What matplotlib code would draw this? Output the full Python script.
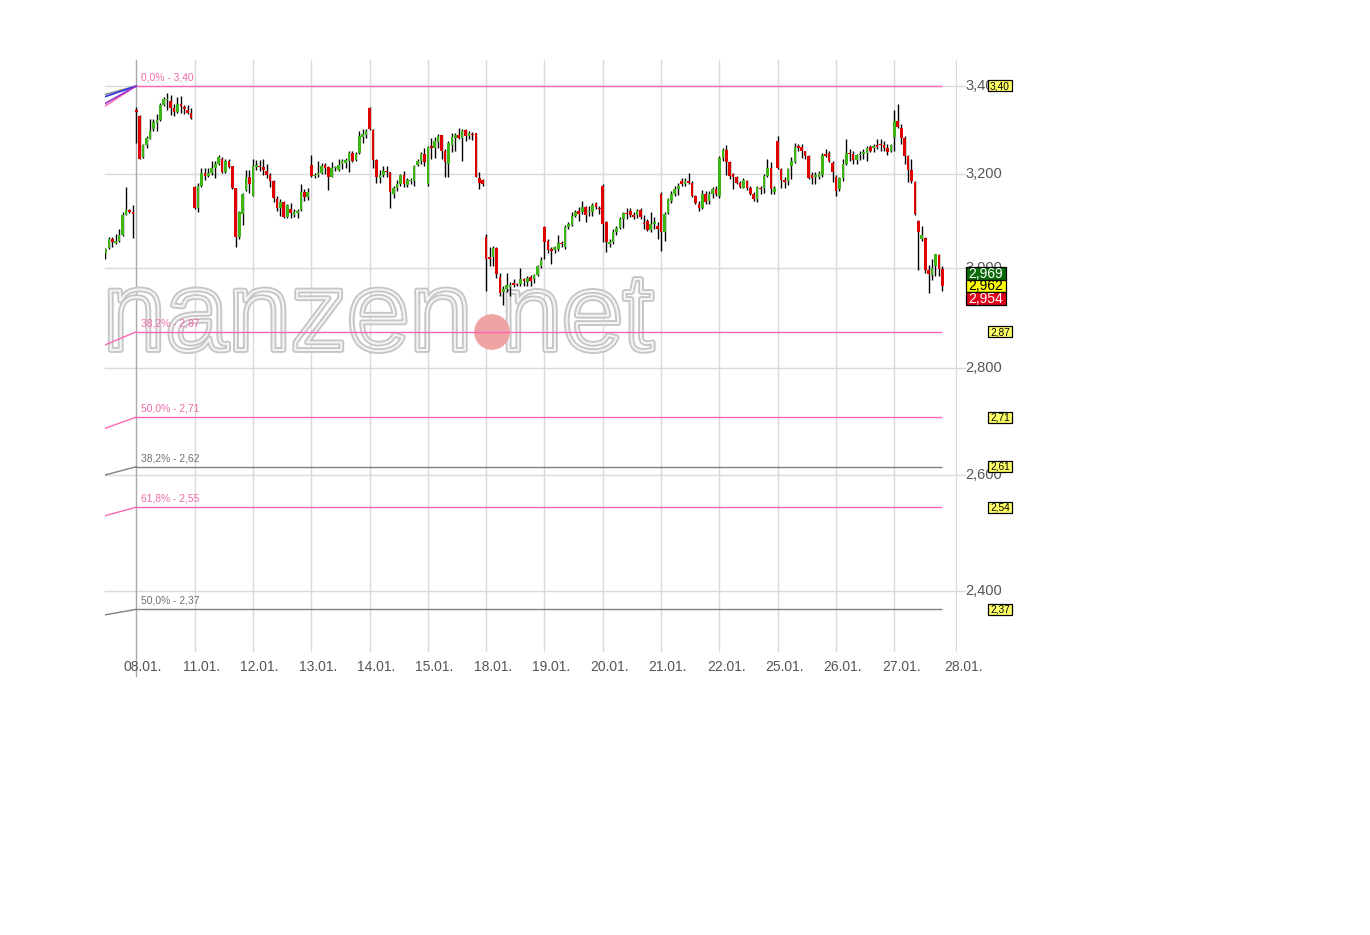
import matplotlib
matplotlib.use("Agg")
import matplotlib.pyplot as plt
from matplotlib.transforms import blended_transform_factory, IdentityTransform
from matplotlib.patches import Rectangle
import matplotlib.patheffects as pe

plt.rcParams['font.family'] = ['Liberation Sans', 'DejaVu Sans']

# ---------------- data ----------------
candle_days = ["07.01.", "08.01.", "11.01.", "12.01.", "13.01.", "14.01.", "15.01.",
               "18.01.", "19.01.", "20.01.", "21.01.", "22.01.", "25.01.", "26.01.", "27.01."]
x_labels = ["08.01.", "11.01.", "12.01.", "13.01.", "14.01.", "15.01.", "18.01.", "19.01.",
            "20.01.", "21.01.", "22.01.", "25.01.", "26.01.", "27.01.", "28.01."]
first_slot = [8, 0, 0, 0, 0, 0, 0, 0, 0, 0, 0, 0, 0, 0, 0]
SLOTS = 17  # half-hour candles per trading day

OPEN = [
    [3.031, 3.040, 3.060, 3.051, 3.055, 3.067, 3.111, 3.121, 3.118],
    [3.345, 3.330, 3.237, 3.264, 3.279, 3.300, 3.314, 3.321, 3.355, 3.368, 3.366, 3.348, 3.339, 3.357, 3.351, 3.345, 3.338],
    [3.172, 3.126, 3.173, 3.202, 3.196, 3.202, 3.213, 3.223, 3.233, 3.205, 3.228, 3.217, 3.170, 3.064, 3.113, 3.164, 3.193],
    [3.152, 3.216, 3.218, 3.215, 3.207, 3.198, 3.184, 3.145, 3.126, 3.138, 3.107, 3.123, 3.111, 3.114, 3.122, 3.161, 3.150],
    [3.220, 3.196, 3.198, 3.203, 3.220, 3.215, 3.194, 3.212, 3.209, 3.223, 3.224, 3.228, 3.247, 3.230, 3.247, 3.283, 3.287],
    [3.349, 3.298, 3.230, 3.192, 3.198, 3.207, 3.204, 3.157, 3.168, 3.177, 3.198, 3.175, 3.185, 3.185, 3.220, 3.228, 3.245],
    [3.177, 3.262, 3.257, 3.271, 3.286, 3.252, 3.222, 3.264, 3.281, 3.286, 3.281, 3.298, 3.285, 3.289, 3.291, 3.192, 3.187],
    [3.064, 3.022, 3.021, 3.040, 2.981, 2.949, 2.956, 2.959, 2.966, 2.966, 2.966, 2.976, 2.971, 2.981, 2.976, 2.984, 3.003],
    [3.086, 3.056, 3.037, 3.036, 3.038, 3.051, 3.042, 3.086, 3.089, 3.109, 3.120, 3.118, 3.127, 3.116, 3.118, 3.136, 3.125],
    [3.174, 3.096, 3.050, 3.053, 3.075, 3.082, 3.101, 3.115, 3.120, 3.111, 3.111, 3.122, 3.093, 3.098, 3.079, 3.091, 3.088],
    [3.155, 3.075, 3.115, 3.141, 3.157, 3.166, 3.184, 3.177, 3.185, 3.181, 3.152, 3.134, 3.126, 3.155, 3.141, 3.155, 3.166],
    [3.152, 3.236, 3.253, 3.227, 3.199, 3.194, 3.181, 3.170, 3.185, 3.168, 3.157, 3.145, 3.170, 3.170, 3.196, 3.214, 3.160],
    [3.273, 3.211, 3.187, 3.184, 3.217, 3.227, 3.262, 3.260, 3.251, 3.239, 3.198, 3.193, 3.194, 3.198, 3.245, 3.247, 3.224],
    [3.194, 3.167, 3.192, 3.222, 3.247, 3.245, 3.230, 3.241, 3.245, 3.247, 3.260, 3.258, 3.264, 3.266, 3.264, 3.258, 3.252],
    [3.283, 3.320, 3.302, 3.280, 3.239, 3.209, 3.183, 3.098, 3.060, 3.062, 2.995, 2.984, 3.003, 3.026, 2.996],
]
HIGH = [
    [3.040, 3.064, 3.064, 3.070, 3.081, 3.116, 3.172, 3.123, 3.133],
    [3.350, 3.333, 3.266, 3.285, 3.323, 3.323, 3.334, 3.361, 3.374, 3.383, 3.380, 3.357, 3.374, 3.376, 3.355, 3.355, 3.349],
    [3.173, 3.179, 3.213, 3.213, 3.213, 3.229, 3.228, 3.241, 3.238, 3.232, 3.232, 3.218, 3.170, 3.120, 3.159, 3.209, 3.209],
    [3.232, 3.230, 3.230, 3.232, 3.222, 3.202, 3.187, 3.152, 3.145, 3.141, 3.135, 3.136, 3.123, 3.123, 3.177, 3.166, 3.170],
    [3.243, 3.202, 3.229, 3.224, 3.224, 3.218, 3.227, 3.217, 3.232, 3.232, 3.236, 3.251, 3.251, 3.249, 3.296, 3.300, 3.300],
    [3.351, 3.300, 3.232, 3.209, 3.218, 3.217, 3.205, 3.173, 3.187, 3.200, 3.207, 3.191, 3.191, 3.220, 3.233, 3.249, 3.258],
    [3.262, 3.281, 3.283, 3.289, 3.287, 3.255, 3.273, 3.292, 3.292, 3.304, 3.300, 3.300, 3.296, 3.294, 3.292, 3.205, 3.189],
    [3.070, 3.042, 3.045, 3.042, 2.988, 2.963, 2.989, 2.971, 2.976, 2.969, 2.999, 2.979, 2.983, 2.984, 2.986, 3.006, 3.022],
    [3.088, 3.060, 3.042, 3.045, 3.067, 3.056, 3.089, 3.095, 3.116, 3.122, 3.127, 3.141, 3.130, 3.129, 3.136, 3.138, 3.129],
    [3.177, 3.098, 3.060, 3.081, 3.088, 3.106, 3.118, 3.125, 3.125, 3.116, 3.123, 3.125, 3.111, 3.102, 3.116, 3.106, 3.095],
    [3.160, 3.116, 3.148, 3.162, 3.173, 3.180, 3.191, 3.191, 3.202, 3.184, 3.153, 3.141, 3.164, 3.162, 3.162, 3.172, 3.173],
    [3.239, 3.258, 3.264, 3.228, 3.203, 3.196, 3.184, 3.191, 3.187, 3.174, 3.160, 3.174, 3.174, 3.199, 3.233, 3.226, 3.173],
    [3.285, 3.214, 3.194, 3.214, 3.237, 3.270, 3.267, 3.266, 3.252, 3.243, 3.204, 3.204, 3.207, 3.247, 3.255, 3.251, 3.228],
    [3.198, 3.194, 3.232, 3.277, 3.255, 3.251, 3.245, 3.252, 3.255, 3.262, 3.264, 3.267, 3.279, 3.277, 3.273, 3.267, 3.267],
    [3.345, 3.357, 3.313, 3.285, 3.241, 3.233, 3.185, 3.100, 3.088, 3.063, 3.006, 3.017, 3.029, 3.028, 3.003],
]
LOW = [
    [3.017, 3.038, 3.043, 3.049, 3.053, 3.066, 3.110, 3.115, 3.061],
    [3.270, 3.232, 3.235, 3.258, 3.277, 3.296, 3.295, 3.319, 3.353, 3.345, 3.332, 3.330, 3.338, 3.338, 3.336, 3.334, 3.323],
    [3.124, 3.118, 3.172, 3.187, 3.193, 3.198, 3.190, 3.220, 3.203, 3.202, 3.213, 3.166, 3.042, 3.060, 3.090, 3.162, 3.159],
    [3.151, 3.209, 3.206, 3.198, 3.191, 3.172, 3.139, 3.120, 3.109, 3.104, 3.104, 3.104, 3.107, 3.104, 3.120, 3.141, 3.143],
    [3.194, 3.191, 3.194, 3.200, 3.199, 3.164, 3.193, 3.206, 3.207, 3.211, 3.213, 3.205, 3.226, 3.228, 3.245, 3.270, 3.281],
    [3.298, 3.213, 3.180, 3.180, 3.194, 3.194, 3.125, 3.147, 3.162, 3.173, 3.171, 3.172, 3.177, 3.173, 3.217, 3.222, 3.217],
    [3.173, 3.232, 3.236, 3.257, 3.232, 3.194, 3.194, 3.248, 3.251, 3.279, 3.228, 3.273, 3.277, 3.276, 3.193, 3.167, 3.174],
    [2.951, 3.003, 3.003, 2.979, 2.941, 2.924, 2.949, 2.941, 2.959, 2.961, 2.963, 2.963, 2.963, 2.963, 2.969, 2.983, 2.999],
    [3.017, 3.031, 3.008, 3.031, 3.035, 3.042, 3.038, 3.081, 3.088, 3.106, 3.098, 3.113, 3.095, 3.108, 3.109, 3.123, 3.113],
    [3.053, 3.033, 3.042, 3.049, 3.068, 3.081, 3.083, 3.102, 3.106, 3.101, 3.104, 3.102, 3.081, 3.077, 3.074, 3.081, 3.060],
    [3.035, 3.056, 3.113, 3.136, 3.152, 3.154, 3.173, 3.173, 3.177, 3.150, 3.134, 3.120, 3.123, 3.134, 3.134, 3.148, 3.152],
    [3.148, 3.228, 3.198, 3.189, 3.166, 3.177, 3.168, 3.168, 3.164, 3.153, 3.141, 3.139, 3.155, 3.159, 3.194, 3.157, 3.155],
    [3.211, 3.168, 3.168, 3.175, 3.189, 3.225, 3.251, 3.236, 3.234, 3.189, 3.178, 3.177, 3.189, 3.194, 3.237, 3.226, 3.182],
    [3.152, 3.162, 3.185, 3.220, 3.228, 3.222, 3.222, 3.230, 3.232, 3.228, 3.249, 3.249, 3.255, 3.251, 3.251, 3.243, 3.249],
    [3.251, 3.304, 3.266, 3.222, 3.182, 3.180, 3.111, 2.994, 3.056, 2.989, 2.947, 2.974, 2.983, 2.983, 2.951],
]
CLOSE = [
    [3.038, 3.060, 3.053, 3.056, 3.067, 3.111, 3.121, 3.118, 3.113],
    [3.339, 3.234, 3.264, 3.281, 3.296, 3.316, 3.321, 3.356, 3.370, 3.370, 3.348, 3.339, 3.357, 3.353, 3.347, 3.338, 3.326],
    [3.126, 3.174, 3.202, 3.196, 3.202, 3.213, 3.223, 3.237, 3.205, 3.228, 3.215, 3.169, 3.064, 3.116, 3.157, 3.193, 3.178],
    [3.218, 3.220, 3.215, 3.209, 3.198, 3.184, 3.147, 3.126, 3.138, 3.107, 3.132, 3.114, 3.116, 3.120, 3.161, 3.150, 3.160],
    [3.196, 3.198, 3.203, 3.218, 3.214, 3.194, 3.213, 3.213, 3.220, 3.228, 3.230, 3.247, 3.228, 3.245, 3.285, 3.289, 3.296],
    [3.300, 3.230, 3.194, 3.198, 3.207, 3.204, 3.160, 3.168, 3.178, 3.198, 3.177, 3.187, 3.187, 3.217, 3.228, 3.245, 3.226],
    [3.260, 3.258, 3.273, 3.285, 3.251, 3.226, 3.268, 3.282, 3.286, 3.281, 3.295, 3.285, 3.291, 3.287, 3.194, 3.181, 3.177],
    [3.018, 3.018, 3.040, 2.986, 2.947, 2.956, 2.964, 2.965, 2.965, 2.964, 2.976, 2.973, 2.978, 2.973, 2.984, 3.003, 3.015],
    [3.054, 3.036, 3.035, 3.042, 3.051, 3.049, 3.086, 3.091, 3.109, 3.118, 3.113, 3.127, 3.111, 3.120, 3.132, 3.127, 3.123],
    [3.091, 3.053, 3.054, 3.075, 3.082, 3.101, 3.115, 3.112, 3.111, 3.106, 3.120, 3.106, 3.091, 3.079, 3.091, 3.095, 3.081],
    [3.075, 3.113, 3.145, 3.157, 3.167, 3.174, 3.177, 3.185, 3.179, 3.152, 3.136, 3.126, 3.157, 3.139, 3.155, 3.166, 3.155],
    [3.236, 3.253, 3.227, 3.196, 3.194, 3.181, 3.172, 3.187, 3.168, 3.157, 3.145, 3.172, 3.167, 3.196, 3.214, 3.166, 3.168],
    [3.214, 3.187, 3.182, 3.211, 3.228, 3.260, 3.258, 3.251, 3.239, 3.192, 3.192, 3.198, 3.203, 3.242, 3.239, 3.228, 3.205],
    [3.162, 3.191, 3.222, 3.247, 3.245, 3.230, 3.241, 3.245, 3.249, 3.258, 3.252, 3.262, 3.261, 3.264, 3.258, 3.249, 3.264],
    [3.320, 3.305, 3.281, 3.239, 3.209, 3.184, 3.113, 3.074, 3.067, 2.995, 2.986, 2.999, 3.028, 2.996, 2.962],
]

y_ticks = [3.4, 3.2, 3.0, 2.8, 2.6, 2.4]

pink_levels = [3.40, 2.87, 2.706, 2.543]
pink_left = [3.353, 2.844, 2.685, 2.528]
pink_texts = ["0,0% - 3,40", "38,2% - 2,87", "50,0% - 2,71", "61,8% - 2,55"]
pink_tags = ["3,40", "2,87", "2,71", "2,54"]

grey_levels = [2.615, 2.37]
grey_left = [2.600, 2.361]
grey_texts = ["38,2% - 2,62", "50,0% - 2,37"]
grey_tags = ["2,61", "2,37"]

top_fan_left = [3.380, 3.375, 3.359]
top_fan_colors = ["#8a8a9a", "#3333dd", "#9933cc"]

quote_values = [2.969, 2.962, 2.954]
quote_colors = ["#0b6b0b", "#ffff00", "#e0001a"]
quote_text_colors = ["white", "black", "white"]

# ---------------- figure ----------------
W, H = 1370, 935
fig = plt.figure(figsize=(W / 100, H / 100), dpi=100)
fig.patch.set_facecolor("white")
L_PX, R_PX, T_PX, B_PX = 105, 957, 60, 652
ax = fig.add_axes([L_PX / W, 1 - B_PX / H, (R_PX - L_PX) / W, (B_PX - T_PX) / H])
ax.set_yscale("log")
DAY_PX = 58.31
X0_PX = 136.3
x_lo, x_hi = (L_PX - X0_PX) / DAY_PX, (R_PX - X0_PX) / DAY_PX
ax.set_xlim(x_lo, x_hi)
ax.set_ylim(2.3013, 3.4615)
ax.set_axis_off()

GRID = "#dadada"
TXT = "#555555"
btx = blended_transform_factory(ax.transData, ax.transAxes)
bty = blended_transform_factory(ax.transAxes, ax.transData)

# grid
for v in y_ticks:
    ax.axhline(v, xmin=0, xmax=(965 - L_PX) / (R_PX - L_PX), color=GRID, lw=1, clip_on=False, zorder=0)
    ax.text((965 - L_PX) / (R_PX - L_PX), v, f"{v:.3f}".replace(".", ","), transform=bty,
            ha="left", va="center", fontsize=10.5, color=TXT, zorder=2)
tick_pos = list(range(len(x_labels) - 1)) + [x_hi - 0.012]
for k, (pos, lab) in enumerate(zip(tick_pos, x_labels)):
    if k == 0:
        ax.axvline(pos, ymin=-(676 - B_PX) / (B_PX - T_PX), ymax=1, color="#a9a9a9", lw=1, clip_on=False, zorder=0.6)
    else:
        ax.axvline(pos, color=GRID, lw=1, zorder=0)
    ax.text(pos + 0.115, -(667 - B_PX) / (B_PX - T_PX), lab, transform=btx, ha="center", va="center",
            fontsize=10, color=TXT)

# watermark
wm_fx = [pe.Stroke(linewidth=4.2, foreground="#c6c6c6"), pe.Stroke(linewidth=1.5, foreground="#f4f4f4")]
t1 = ax.text((472 - L_PX) / (R_PX - L_PX), (B_PX - 350) / (B_PX - T_PX), "finanzen", transform=ax.transAxes,
             ha="right", va="baseline", fontsize=81, color="none", zorder=1, clip_on=True)
t1.set_path_effects(wm_fx)
t2 = ax.text((501 - L_PX) / (R_PX - L_PX), (B_PX - 350) / (B_PX - T_PX), "net", transform=ax.transAxes,
             ha="left", va="baseline", fontsize=79, color="none", zorder=1, clip_on=True)
t2.set_path_effects(wm_fx)
ax.scatter([(492 - L_PX) / (R_PX - L_PX)], [(B_PX - 332) / (B_PX - T_PX)], transform=ax.transAxes,
           s=660, color="#eea3a3", edgecolor="none", zorder=1)

# candles
xs, os_, hs, ls, cs = [], [], [], [], []
for d, fs in enumerate(first_slot):
    for j in range(len(OPEN[d])):
        xs.append(d - 1 + (fs + j) / SLOTS)
        os_.append(OPEN[d][j]); hs.append(HIGH[d][j]); ls.append(LOW[d][j]); cs.append(CLOSE[d][j])

ax.vlines(xs, ls, hs, color="black", lw=1, zorder=3)
bottoms = [min(o, c) for o, c in zip(os_, cs)]
heights = [max(abs(c - o), 0.0025) for o, c in zip(os_, cs)]
colors = ["#3db514" if c > o else "#e00000" for o, c in zip(os_, cs)]
ax.bar(xs, heights, bottom=bottoms, width=0.045, color=colors, edgecolor="none", linewidth=0, zorder=4)

x_end = xs[-1]

# fibonacci lines
PINK = "#ff66b3"
PINK_T = "#f06aa8"
GREY = "#808080"
for lev, lft, txt in zip(pink_levels, pink_left, pink_texts):
    ax.hlines(lev, 0, x_end, color=PINK, lw=1, zorder=2)
    ax.plot([x_lo, 0], [lft, lev], color=PINK, lw=1, zorder=2)
    ax.annotate(txt, xy=(0, lev), xytext=(3.6, 2.6), textcoords="offset points", fontsize=7.4,
                color=PINK_T, va="bottom", ha="left", zorder=5)
for lev, lft, txt in zip(grey_levels, grey_left, grey_texts):
    ax.hlines(lev, 0, x_end, color=GREY, lw=1, zorder=2)
    ax.plot([x_lo, 0], [lft, lev], color=GREY, lw=1, zorder=2)
    ax.annotate(txt, xy=(0, lev), xytext=(3.6, 2.6), textcoords="offset points", fontsize=7.4,
                color="#707070", va="bottom", ha="left", zorder=5)
for lft, col in zip(top_fan_left, top_fan_colors):
    ax.plot([x_lo, 0], [lft, pink_levels[0]], color=col, lw=1.2, zorder=2)

# right-hand tags (display/pixel coordinates)
ident = IdentityTransform()

def tag(level, text, x0, w, h, fc, tc, fs, dy=0.0):
    yd = ax.transData.transform((0, level))[1] + dy
    fig.add_artist(Rectangle((x0, yd - h / 2), w, h, transform=ident, facecolor=fc,
                             edgecolor="black", linewidth=0.9, zorder=10))
    fig.add_artist(plt.Text(x0 + w / 2, yd - 0.3, text, transform=ident, ha="center", va="center",
                            fontsize=fs, color=tc, zorder=11, fontfamily=["Liberation Sans", "DejaVu Sans"]))

for lev, t in zip(pink_levels + grey_levels, pink_tags + grey_tags):
    tag(lev, t, 988, 24, 11, "#ffff66", "black", 7.3)

offs = [12.7, 0.0, -12.7]
for v, fc, tc, dy in zip(quote_values, quote_colors, quote_text_colors, offs):
    tag(quote_values[1], f"{v:.3f}".replace(".", ","), 965.5, 40, 12.7, fc, tc, 10, dy=dy)

fig.savefig("out.png", dpi=100, facecolor="white")
